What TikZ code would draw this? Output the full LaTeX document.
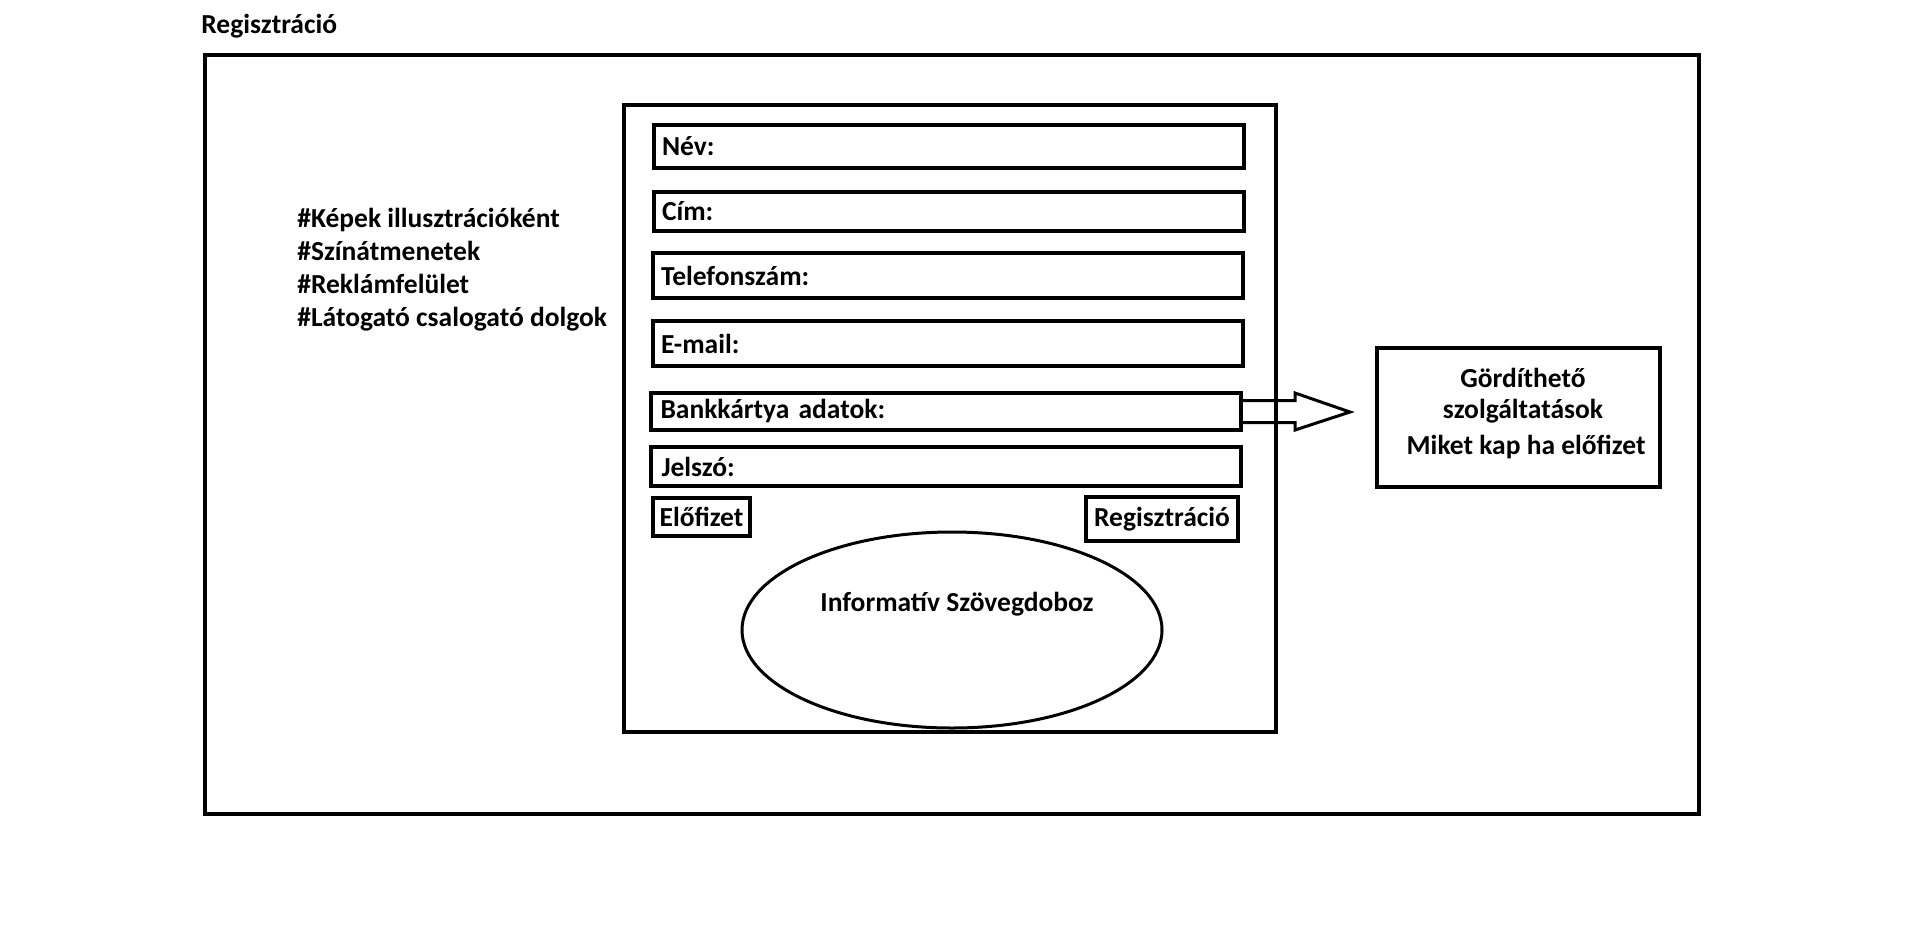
\documentclass[tikz,border=0pt]{standalone}
\usepackage{fontspec}
\setmainfont{Carlito}
\usetikzlibrary{calc}
\usetikzlibrary{shapes.geometric}

\begin{document}
\begin{tikzpicture}[x=1pt, y=-1pt,
    every node/.style={font=\fontsize{27.5}{33}\selectfont\bfseries, outer sep=0pt},
    box/.style={draw, line width=4pt, inner sep=0pt},
    field/.style={box, minimum height=#1, text width=574pt, inner xsep=8pt, align=left}]
    \useasboundingbox (0,0) rectangle (1914,927);

    % title
    \node[anchor=west] (title) at (198,26) {Regisztráció};

    % outer frame
    \node[box, minimum width=1494, minimum height=759] (page) at (952,434.5) {};

    % notes on the left
    \node[anchor=west, align=left] (notes) at (294,270)
      {\#Képek illusztrációként\\ \#Színátmenetek\\ \#Reklámfelület\\ \#Látogató csalogató dolgok};

    % the form
    \node[box, minimum width=652, minimum height=627] (form) at (950,418.5) {};

    \node[field=43] (nev)    at (949,146.5) {Név:};
    \node[field=39] (cim)    at (949,211.5) {Cím:};
    \node[field=45] (tel)    at (948,275.5) {Telefonszám:};
    \node[field=45] (email)  at (948,343.5) {E-mail:};
    \node[field=37, inner xsep=10pt, text width=570pt] (bank)   at (945.5,411.5) {Bankkártya adatok:};
    \node[field=39, inner xsep=11pt, text width=568pt] (jelszo) at (945.5,466.5) {Jelszó:};

    % buttons
    \node[box, minimum width=97, minimum height=38]  (elofizet) at (701.5,517) {Előfizet};
    \node[box, minimum width=152, minimum height=44] (regbtn)   at (1162,519) {Regisztráció};

    % info bubble
    \node[draw, ellipse, line width=3pt, minimum width=420, minimum height=196] (info) at (952,630) {};
    \node (infotext) at (957,604) {Informatív Szövegdoboz};

    % box on the right
    \node[box, minimum width=283, minimum height=139] (extras) at (1518.5,417.5) {};
    \node[align=center, font=\fontsize{27.5}{31}\selectfont\bfseries] (extrastext) at (1523,414)
      {Gördíthető\\szolgáltatások\\[5pt] \ Miket kap ha előfizet};

    % block arrow
    \coordinate (tip) at (1350,412);
    \draw[line width=3pt, line join=miter]
      ($(bank.east)+(0,-11)$) -- ++(54.5,0) -- ++(0,-7.5) -- (tip)
      -- ($(bank.east)+(54.5,18.5)$) -- ++(0,-7.5) -- ($(bank.east)+(0,11)$);
\end{tikzpicture}
\end{document}
